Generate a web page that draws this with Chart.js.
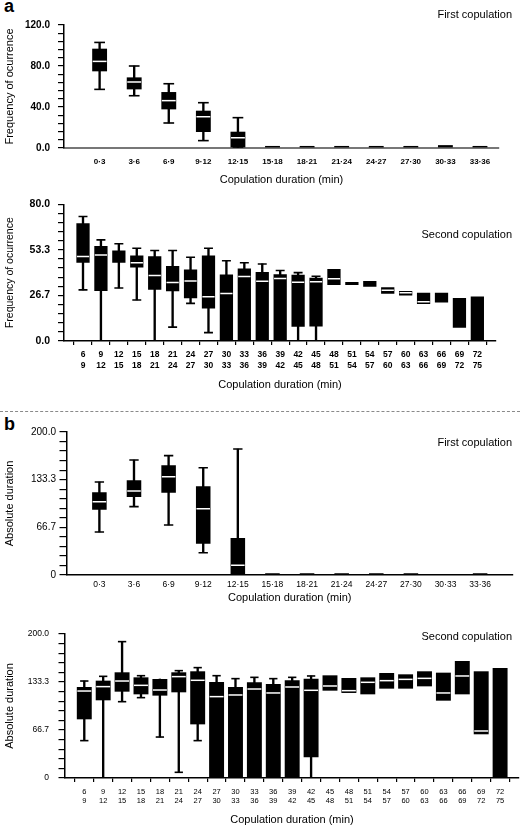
<!DOCTYPE html>
<html>
<head>
<meta charset="utf-8">
<script src="https://cdn.jsdelivr.net/npm/chart.js@4.4.1/dist/chart.umd.min.js"></script>
<style>
  body { margin: 0; width: 520px; height: 827px; position: relative; overflow: hidden; background: #fff;
         font-family: "Liberation Sans", Arial, sans-serif; }
  .panel { position: absolute; left: 0; width: 520px; }
  .tag { position: absolute; left: 4px; font-weight: bold; font-size: 18px; line-height: 1; }
  #sep { position: absolute; left: 0; top: 411px; width: 520px; border-top: 1px dashed #8a8a8a; }
</style>
</head>
<body>
<div class="tag" style="top:-3px">a</div>
<div class="panel" style="top:0;height:195px"><canvas id="freqFirst"></canvas></div>
<div class="panel" style="top:190px;height:205px"><canvas id="freqSecond"></canvas></div>
<div id="sep"></div>
<div class="tag" style="top:415px">b</div>
<div class="panel" style="top:415px;height:190px"><canvas id="durFirst"></canvas></div>
<div class="panel" style="top:610px;height:217px"><canvas id="durSecond"></canvas></div>

<script>
// categories
const firstBins = ['0·3', '3·6', '6·9', '9·12', '12·15', '15·18', '18·21', '21·24', '24·27', '27·30', '30·33', '33·36'];
const secondBins = ['6-9', '9-12', '12-15', '15-18', '18-21', '21-24', '24-27', '27-30', '30-33', '33-36', '36-39', '39-42',
                    '42-45', '45-48', '48-51', '51-54', '54-57', '57-60', '60-63', '63-66', '66-69', '69-72', '72-75'];

// a) frequency of occurrence, first copulation
const freqFirstMax = 120;
const freqFirstLow    = [57.2, 51.0, 24.4, 7.2, 0, null, null, null, null, null, null, null];
const freqFirstQ1     = [74.8, 57.2, 37.7, 15.6, 0, 0, 0, 0, 0, 0, 0, 0];
const freqFirstMedian = [84.5, 64.4, 46.2, 30.5, 10.0, null, null, null, null, null, null, null];
const freqFirstQ3     = [96.9, 68.9, 54.6, 36.4, 15.9, 2, 2, 2, 2, 2, 2.8, 2];
const freqFirstHigh   = [103.0, 80.0, 62.7, 44.2, 29.6, null, null, null, null, null, null, null];

// a) frequency of occurrence, second copulation
const freqSecondMax = 80;
const freqSecondLow    = [29.9, 0, 31.0, 24.0, 0, 8.1, 22.0, 4.9, null, null, null, null, 0, 0,
                          null, null, null, null, null, null, null, null, null];
const freqSecondQ1     = [45.8, 29.3, 45.8, 43.0, 30.0, 29.1, 25.0, 19.0, 0, 0, 0, 0, 8.3, 8.5,
                          32.7, 32.7, 31.7, 27.6, 26.7, 21.6, 22.5, 7.7, 0];
const freqSecondMedian = [49.4, 50.3, null, 45.8, 38.3, 34.2, 35.1, 25.9, 27.8, 37.7, 34.9, 36.6, 34.4, 34.7,
                          36.4, null, null, 29.7, 28.2, 22.9, null, null, null];
const freqSecondQ3     = [68.9, 55.6, 53.0, 50.1, 49.6, 43.9, 41.9, 50.1, 38.9, 42.4, 40.4, 39.1, 38.7, 37.0,
                          42.1, 34.6, 35.1, 31.4, 29.3, 28.2, 28.2, 25.2, 26.1];
const freqSecondHigh   = [72.9, 59.2, 56.9, 54.3, 53.0, 53.0, 49.0, 54.3, 47.0, 45.8, 45.1, 41.3, 40.0, 37.9,
                          null, null, null, null, null, null, null, null, null];

// b) absolute duration, first copulation
const durFirstMax = 200;
const durFirstLow    = [60.1, 95.6, 69.9, 31.2, 0, null, null, null, null, null, null, null];
const durFirstQ1     = [91.4, 109.1, 115.1, 43.8, 0, 0, 0, 0, 0, 0, 0, 0];
const durFirstMedian = [102.6, 117.5, 137.5, 92.8, 13.5, null, null, null, null, null, null, null];
const durFirstQ3     = [115.6, 132.4, 153.4, 124.0, 51.7, 2.5, 2.5, 2.5, 2.5, 2.5, 1.5, 2.5];
const durFirstHigh   = [130.1, 160.8, 166.9, 150.1, 176.2, null, null, null, null, null, null, null];

// b) absolute duration, second copulation
const durSecondMax = 200;
const durSecondLow    = [51.9, 0, 106.0, 111.6, 56.9, 7.9, 51.9, null, null, null, null, null, 0,
                         null, null, null, null, null, null, null, null, null, null];
const durSecondQ1     = [81.5, 107.9, 119.9, 116.2, 114.4, 119.0, 74.5, 0, 0, 0, 0, 0, 28.7,
                         121.3, 118.1, 116.2, 124.1, 124.1, 127.3, 107.4, 116.2, 60.7, 0];
const durSecondMedian = [120.8, 126.9, 134.7, 128.7, 122.2, 140.8, 135.7, 113.0, 115.3, 123.6, 118.1, 126.4, 121.8,
                         127.8, 121.3, 132.9, 135.2, 137.0, 138.4, 118.1, 141.7, 65.3, null];
const durSecondQ3     = [126.4, 135.2, 146.8, 139.8, 137.5, 146.8, 148.2, 133.3, 126.4, 132.9, 130.6, 135.7, 138.0,
                         142.6, 138.9, 139.8, 145.8, 144.0, 148.2, 146.3, 162.5, 148.2, 152.8];
const durSecondHigh   = [134.7, 141.2, 189.4, 142.1, null, 149.1, 153.3, 142.1, 138.0, 139.8, 138.0, 139.8, 141.7,
                         null, null, null, null, null, null, null, null, null, null];

Chart.defaults.font.family = '"Liberation Sans", Arial, sans-serif';
Chart.defaults.color = '#000';

// text in the top right corner of each panel
const cornerText = {
  id: 'cornerText',
  afterDraw(chart, args, opts) {
    const { ctx, chartArea } = chart;
    ctx.save();
    ctx.font = '11px "Liberation Sans", Arial, sans-serif';
    ctx.fillStyle = '#000';
    ctx.textAlign = 'right';
    ctx.textBaseline = 'middle';
    ctx.fillText(opts.text, chart.width - 8, chartArea.top + opts.dy);
    ctx.restore();
  }
};

function boxPanel(id, p) {
  const n = p.bins.length;
  const boxes = [], whiskers = [], medians = [], caps = [];
  for (let i = 0; i < n; i++) {
    boxes.push({ x: i, y: [p.q1[i], p.q3[i]] });
    if (p.low[i] != null || p.high[i] != null)
      whiskers.push({ x: i, y: [p.low[i] ?? p.q1[i], p.high[i] ?? p.q3[i]] });
    if (p.med[i] != null) medians.push({ x: i, y: p.med[i] });
    if (p.high[i] != null) caps.push({ x: i, y: p.high[i] });
    if (p.low[i] != null) caps.push({ x: i, y: p.low[i] });
  }
  // width of one category in pixels
  const unit = c => {
    const s = c.chart.scales.x;
    return Math.abs(s.getPixelForValue(1) - s.getPixelForValue(0));
  };
  const nTicks = 15;

  new Chart(document.getElementById(id), {
    type: 'bar',
    data: {
      datasets: [
        { type: 'line', data: medians, order: 0, showLine: false, pointStyle: 'line',
          pointRadius: c => unit(c) * p.boxFrac / 2 - 0.5, pointBorderColor: '#fff', pointBorderWidth: 1.5 },
        { data: boxes, order: 1, grouped: false, backgroundColor: '#000', borderWidth: 0,
          categoryPercentage: 1, barPercentage: p.boxFrac },
        { type: 'line', data: caps, order: 2, showLine: false, pointStyle: 'line',
          pointRadius: c => unit(c) * p.capFrac / 2, pointBorderColor: '#000', pointBorderWidth: 1.6 },
        { data: whiskers, order: 3, grouped: false, backgroundColor: '#000', borderWidth: 0, barThickness: 1.7 }
      ]
    },
    options: {
      animation: false,
      events: [],
      responsive: true,
      maintainAspectRatio: false,
      layout: { padding: { top: p.padTop, right: p.padRight, left: 0, bottom: 0 } },
      plugins: {
        legend: { display: false },
        tooltip: { enabled: false },
        cornerText: { text: p.corner, dy: p.cornerDy }
      },
      scales: {
        x: {
          type: 'linear', min: p.xMin, max: p.xMax, offset: false,
          afterBuildTicks: s => { s.ticks = p.bins.map((b, i) => ({ value: i })); },
          afterFit: s => { s.height = p.xHeight; },
          ticks: {
            autoSkip: false, maxRotation: 0, padding: p.xTickPad, font: p.xFont,
            callback: (v, i) => p.stacked ? p.bins[i].split('-') : p.bins[i]
          },
          grid: { display: true, drawOnChartArea: false, drawTicks: p.xTicks, tickLength: 4, color: '#000', lineWidth: 1.2 },
          border: { display: true, color: p.xAxisColor, width: p.xAxisWidth },
          title: { display: true, text: 'Copulation duration (min)', font: { size: 11 }, padding: { top: 0, bottom: p.xTitlePad } }
        },
        y: {
          min: 0, max: p.yMax,
          afterBuildTicks: s => {
            const t = [];
            for (let k = 0; k <= nTicks; k++) t.push({ value: p.yMax * k / nTicks });
            s.ticks = t;
          },
          afterFit: s => { s.width = p.yWidth; },
          ticks: {
            autoSkip: false, padding: p.yTickPad, font: p.yFont,
            callback: (v, i) => i % 5 ? '' : (v === 0 ? p.zero : v.toFixed(1))
          },
          grid: { display: true, drawOnChartArea: false, drawTicks: true, tickLength: p.yTickLen, color: '#000', lineWidth: 1.2 },
          border: { display: true, color: '#000', width: 1.5 },
          title: { display: true, text: p.yTitle, font: p.yTitleFont, padding: { top: p.yTitlePad, bottom: 0 } }
        }
      }
    },
    plugins: [cornerText]
  });
}

boxPanel('freqFirst', {
  bins: firstBins, low: freqFirstLow, q1: freqFirstQ1, med: freqFirstMedian, q3: freqFirstQ3, high: freqFirstHigh,
  yMax: freqFirstMax, zero: '0.0', xMin: -1.03, xMax: 11.55, boxFrac: 0.43, capFrac: 0.31,
  padTop: 25, padRight: 21, yWidth: 64, xHeight: 47, xTickPad: 9.2, xTitlePad: 8.4, xTicks: false,
  xFont: { size: 8, weight: 'bold', lineHeight: 1.2 }, xAxisColor: '#777', xAxisWidth: 2, stacked: false,
  yFont: { size: 10, weight: 'bold' }, yTickPad: 8, yTickLen: 6,
  yTitle: 'Frequency of ocurrence', yTitleFont: { size: 11 }, yTitlePad: 3.4,
  corner: 'First copulation', cornerDy: -10
});

boxPanel('freqSecond', {
  bins: secondBins, low: freqSecondLow, q1: freqSecondQ1, med: freqSecondMedian, q3: freqSecondQ3, high: freqSecondHigh,
  yMax: freqSecondMax, zero: '0.0', xMin: -1.06, xMax: 23.04, boxFrac: 0.74, capFrac: 0.5,
  padTop: 9, padRight: 24, yWidth: 64, xHeight: 54, xTickPad: 4.7, xTitlePad: 3.4, xTicks: true,
  xFont: { size: 8.5, weight: 'bold', lineHeight: 1.25 }, xAxisColor: '#000', xAxisWidth: 1.5, stacked: true,
  yFont: { size: 10.5, weight: 'bold' }, yTickPad: 8, yTickLen: 6,
  yTitle: 'Frequency of ocurrence', yTitleFont: { size: 10.5 }, yTitlePad: 3.7,
  corner: 'Second copulation', cornerDy: 31
});

boxPanel('durFirst', {
  bins: firstBins, low: durFirstLow, q1: durFirstQ1, med: durFirstMedian, q3: durFirstQ3, high: durFirstHigh,
  yMax: durFirstMax, zero: '0', xMin: -0.95, xMax: 11.95, boxFrac: 0.42, capFrac: 0.27,
  padTop: 17, padRight: 7, yWidth: 66.5, xHeight: 30, xTickPad: 4.9, xTitlePad: 0.4, xTicks: false,
  xFont: { size: 8.5, lineHeight: 1.2 }, xAxisColor: '#000', xAxisWidth: 1.5, stacked: false,
  yFont: { size: 10 }, yTickPad: 3.5, yTickLen: 7,
  yTitle: 'Absolute duration', yTitleFont: { size: 11 }, yTitlePad: 3.4,
  corner: 'First copulation', cornerDy: 11
});

boxPanel('durSecond', {
  bins: secondBins, low: durSecondLow, q1: durSecondQ1, med: durSecondMedian, q3: durSecondQ3, high: durSecondHigh,
  yMax: durSecondMax, zero: '0', xMin: -1.02, xMax: 23.0, boxFrac: 0.79, capFrac: 0.44,
  padTop: 24, padRight: 1, yWidth: 65, xHeight: 49, xTickPad: 5.7, xTitlePad: 0.4, xTicks: true,
  xFont: { size: 7.5, lineHeight: 1.15 }, xAxisColor: '#000', xAxisWidth: 1.5, stacked: true,
  yFont: { size: 8.5 }, yTickPad: 9.5, yTickLen: 6.5,
  yTitle: 'Absolute duration', yTitleFont: { size: 11 }, yTitlePad: 3.4,
  corner: 'Second copulation', cornerDy: 3
});
</script>
</body>
</html>
